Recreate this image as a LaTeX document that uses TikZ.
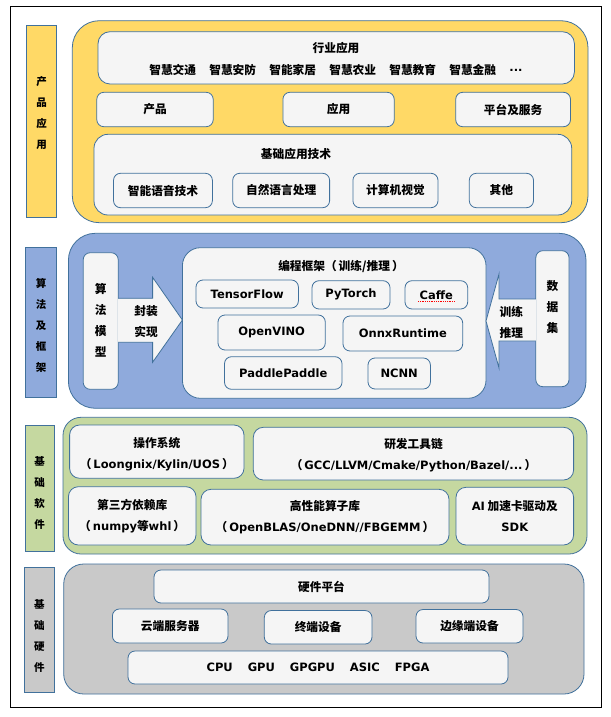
\documentclass[tikz,border=0pt]{standalone}
\usepackage{fontspec}
\setmainfont{Noto Sans CJK SC}
\newfontfamily\lat{DejaVu Sans}
\newcommand\en[1]{{\lat\bfseries\fontsize{11.5}{13}\selectfont #1}}
\newcommand\lp{（\hspace{2pt}}
\newcommand\rp{\hspace{2pt}）}
\definecolor{bord}{HTML}{41719C}
\definecolor{cyel}{HTML}{FFD966}
\definecolor{cblu}{HTML}{8FAADC}
\definecolor{cgrn}{HTML}{C5D8A0}
\definecolor{cgry}{HTML}{C9C9C9}
\definecolor{cinn}{HTML}{F5F5F5}
\newcommand\rb[7]{\node[#6, minimum width={#4-#2}, minimum height={#5-#3}] (#1) at ({(#2+#4)/2},{(#3+#5)/2}) {#7};}
\tikzset{
  grp/.style={draw=bord, line width=0.8pt, rectangle, rounded corners=#1},
  lab/.style={draw=bord, line width=0.8pt, rectangle},
  inn/.style={draw=bord, line width=0.8pt, fill=cinn, rectangle, rounded corners=7pt},
  vtext/.style={font=\bfseries\fontsize{10.5}{21}\selectfont, align=center},
  txt/.style={font=\bfseries\fontsize{11.7}{21}\selectfont, align=center},
}
\begin{document}
\begin{tikzpicture}[x=1pt,y=-1pt, every node/.style={inner sep=0pt, outer sep=0pt, font=\bfseries\fontsize{11.7}{13}\selectfont}]
\useasboundingbox (0,0) rectangle (610,717);
\fill[white] (0,0) rectangle (610,717);
\draw[black, line width=0.9pt] (10,6) rectangle (601,707);

% ---------- left labels ----------
\rb{lab1}{26.7}{25}{56.3}{217}{lab, fill=cyel}{}
\rb{lab2}{25.6}{247.3}{56.7}{397.7}{lab, fill=cblu}{}
\rb{lab3}{24.9}{425}{54}{551.7}{lab, fill=cgrn}{}
\rb{lab4}{24.8}{567}{54}{692}{lab, fill=cgry}{}
\node[vtext] (lab1t) at (41.5,113.5) {产\\品\\应\\用};
\node[vtext] (lab2t) at (41.2,325.5) {算\\法\\及\\框\\架};
\node[vtext] (lab3t) at (39.5,492.5) {基\\础\\软\\件};
\node[vtext] (lab4t) at (39.4,635.5) {基\\础\\硬\\件};

% ---------- groups ----------
\rb{g1}{72.3}{20.7}{588}{222.7}{grp=27pt, fill=cyel}{}
\rb{g2}{68.4}{233.3}{586}{408.3}{grp=27pt, fill=cblu}{}
\rb{g3}{63}{417.3}{587}{554}{grp=18pt, fill=cgrn}{}
\rb{g4}{63.7}{564}{584}{694}{grp=20pt, fill=cgry}{}

% ---------- product / application ----------
\rb{hy}{98}{31.7}{574.4}{84}{inn, rounded corners=12pt}{}
\node (hyt) at (336,48) {行业应用};
\node (i1) at (172.7,70) {智慧交通};
\node (i2) at (232.7,70) {智慧安防};
\node (i3) at (292.7,70) {智能家居};
\node (i4) at (352.7,70) {智慧农业};
\node (i5) at (412.7,70) {智慧教育};
\node (i6) at (472.7,70) {智慧金融};
\node (i7) at (516,70) {\en{...}};
\rb{cp}{96.8}{92.3}{213.2}{126.7}{inn}{产品}
\rb{yy}{282.9}{92.3}{394.2}{126.7}{inn}{应用}
\rb{pt}{455.7}{92.3}{570.5}{126.7}{inn}{平台及服务}
\rb{jc}{94}{134.3}{571.7}{215}{inn, rounded corners=14pt}{}
\node (jct) at (296,154.3) {基础应用技术};
\rb{j1}{113.5}{173.3}{212.4}{207.7}{inn}{智能语音技术}
\rb{j2}{232.7}{173.3}{329.6}{207.7}{inn}{自然语言处理}
\rb{j3}{352.9}{173.3}{438}{207.7}{inn}{计算机视觉}
\rb{j4}{469.3}{173.3}{533.5}{207.7}{inn}{其他}

% ---------- algorithms & frameworks ----------
\rb{algo}{83.2}{252.7}{118.2}{389.3}{inn}{}
\node[txt] (algot) at (100.7,320) {算\\法\\模\\型};
\rb{prog}{182.4}{247.7}{486}{398.3}{inn, rounded corners=18pt}{}
\node (progt) at (341,266) {编程框架\lp 训练/推理\rp};
\rb{data}{535.8}{250.7}{569}{386.7}{inn}{}
\node[txt] (datat) at (552.4,307.3) {数\\据\\集};

\rb{tf}{196}{280}{298.4}{308}{inn}{\en{TensorFlow}}
\rb{pyt}{312}{280.7}{390}{309}{inn}{\en{PyTorch}}
\rb{caf}{405}{280.7}{467.7}{309}{inn}{\en{Caffe}}
\rb{ov}{218}{315}{325.3}{350}{inn}{\en{OpenVINO}}
\rb{onnx}{343}{316}{462.7}{351}{inn}{\en{OnnxRuntime}}
\rb{pp}{224.5}{356.7}{342}{389.3}{inn}{\en{PaddlePaddle}}
\rb{ncnn}{368}{358}{430.4}{389}{inn}{\en{NCNN}}
\draw[red, densely dotted, line width=0.8pt] (418,301.5) -- (455,301.5);

% block arrows
\coordinate (ra1) at (algo.east |- 0,298.3);
\coordinate (ra7) at (algo.east |- 0,342.3);
\fill[cinn] (ra1) -- (152.6,298.3) -- (152.6,277.3) -- (prog.west |- 0,320) -- (152.6,362.3) -- (152.6,342.3) -- (ra7) -- cycle;
\draw[bord, line width=0.8pt] (ra1) -- (152.6,298.3) -- (152.6,277.3) -- (prog.west |- 0,320) -- (152.6,362.3) -- (152.6,342.3) -- (ra7);
\node[txt] (fz) at (146,321.5) {封装\\实现};

\coordinate (la1) at (data.west |- 0,299);
\coordinate (la7) at (data.west |- 0,341);
\fill[cinn] (la1) -- (499,299) -- (499,274) -- (prog.east |- 0,321) -- (499,368) -- (499,341) -- (la7) -- cycle;
\draw[bord, line width=0.8pt] (la1) -- (499,299) -- (499,274) -- (prog.east |- 0,321) -- (499,368) -- (499,341) -- (la7);
\node[txt] (xl) at (511.4,322) {训练\\推理};

% ---------- basic software ----------
\rb{os}{69.6}{425}{244}{478.3}{inn, rounded corners=10pt}{}
\node[txt] (ost) at (156.8,453.7) {操作系统\\\lp\en{Loongnix/Kylin/UOS}\rp};
\rb{dev}{253.3}{427.3}{573.6}{480}{inn, rounded corners=10pt}{}
\node[txt] (devt) at (413.5,455) {研发工具链\\\lp\en{GCC/LLVM/Cmake/Python/Bazel/...}\rp};
\rb{tp}{68.4}{486.7}{196}{545}{inn, rounded corners=10pt}{}
\node[txt] (tpt) at (132.2,516) {第三方依赖库\\\lp\en{numpy}等\en{whl}\rp};
\rb{hp}{201}{489.3}{449}{545}{inn, rounded corners=10pt}{}
\node[txt] (hpt) at (325,517.3) {高性能算子库\\\lp\en{OpenBLAS/OneDNN//FBGEMM}\rp};
\rb{ai}{456}{487.3}{573.6}{545}{inn, rounded corners=10pt}{}
\node[txt] (ait) at (514.8,516) {\en{AI} 加速卡驱动及\\\en{SDK}};

% ---------- basic hardware ----------
\rb{hw}{154}{570}{489}{603}{inn}{硬件平台}
\rb{cs}{112.4}{609}{228}{643}{inn}{云端服务器}
\rb{td}{264.3}{610.5}{372}{644}{inn}{终端设备}
\rb{ed}{416}{609.5}{523}{643}{inn}{边缘端设备}
\rb{chip}{128}{651}{508}{684}{inn}{\en{CPU\hspace{1.3em}GPU\hspace{1.3em}GPGPU\hspace{1.3em}ASIC\hspace{1.3em}FPGA}}
\end{tikzpicture}
\end{document}
